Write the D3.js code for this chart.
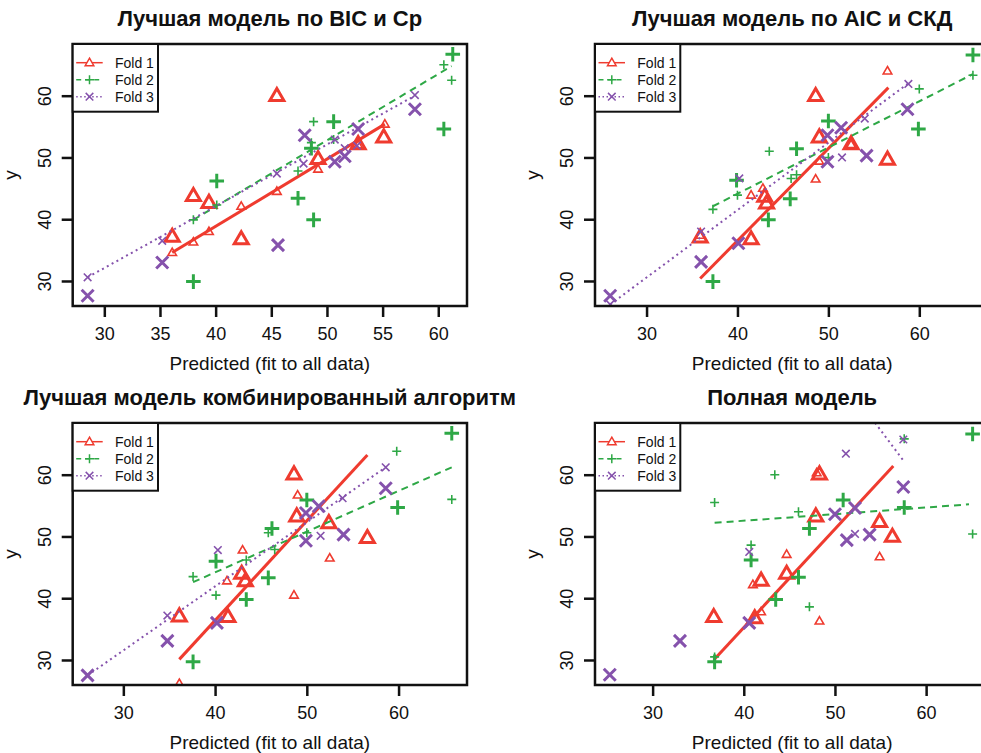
<!DOCTYPE html>
<html>
<head>
<meta charset="utf-8">
<script src="https://cdn.jsdelivr.net/npm/d3@7"></script>
<style>
  body { margin: 0; background: #fff; }
  svg { display: block; }
  text { font-family: "Liberation Sans", Arial, Helvetica, sans-serif; fill: #111; }
</style>
</head>
<body>
<div id="chart"></div>
<script>
// 1: DATA
const panelTitles = [
    "Лучшая модель по BIC и Ср",
    "Лучшая модель по AIC и СКД",
    "Лучшая модель комбинированный алгоритм",
    "Полная модель"
];
const foldNames = ["Fold 1", "Fold 2", "Fold 3"];
const xLimits = [[27.16, 62.58], [24.33, 67.7], [24.48, 67.46], [23.68, 66.93]];
const yLimits = [25.95, 68.37];
const xTickValues = [[30, 35, 40, 45, 50, 55, 60], [30, 40, 50, 60], [30, 40, 50, 60], [30, 40, 50, 60]];
const yTickValues = [30, 40, 50, 60];

// large symbols: y against prediction from the fit to all data, one list per fold
const bicObserved = [
    [[45.5, 60.0], [38.0, 43.8], [39.4, 42.7], [36.1, 37.2], [42.3, 36.8], [49.2, 49.8], [52.8, 52.2], [55.1, 53.3]],
    [[61.3, 66.7], [60.5, 54.6], [50.6, 55.8], [48.6, 51.5], [40.1, 46.2], [47.4, 43.4], [48.8, 39.9], [38.0, 29.9]],
    [[28.5, 27.6], [35.2, 33.0], [45.6, 35.8], [48.0, 53.6], [50.7, 49.3], [51.6, 50.2], [52.8, 54.6], [57.9, 57.8]]
];
// small symbols: fold predictions
const bicFoldPred = [
    [[36.1, 34.6], [38.0, 36.3], [39.4, 38.0], [42.3, 42.1], [45.5, 44.5], [49.2, 48.1], [52.8, 52.0], [55.2, 55.4]],
    [[60.5, 65.0], [61.2, 62.5], [48.8, 55.8], [50.6, 52.9], [48.6, 52.4], [47.4, 47.8], [40.1, 42.3], [38.0, 39.9]],
    [[28.5, 30.6], [35.2, 36.5], [45.5, 47.4], [47.9, 49.0], [50.7, 52.9], [51.6, 51.5], [52.7, 51.9], [57.9, 60.1]]
];
const bicFoldLine = [
    [[36.1, 34.6], [55.2, 55.4]],
    [[38.0, 39.9], [61.2, 64.8]],
    [[28.5, 30.6], [57.9, 60.0]]
];

const aicObserved = [
    [[48.6, 60.0], [49.0, 53.3], [52.5, 52.2], [56.5, 49.7], [43.0, 43.7], [43.2, 42.6], [35.9, 37.1], [41.5, 36.8]],
    [[65.9, 66.6], [50.0, 55.9], [46.5, 51.4], [59.9, 54.6], [39.9, 46.3], [45.8, 43.3], [43.4, 39.9], [37.3, 29.9]],
    [[26.0, 27.6], [36.0, 33.1], [40.1, 36.1], [49.9, 53.6], [51.4, 54.8], [49.9, 49.3], [54.2, 50.3], [58.7, 57.8]]
];
const aicFoldPred = [
    [[56.5, 64.0], [52.5, 52.1], [49.0, 49.4], [48.6, 46.5], [42.8, 45.0], [41.5, 43.9], [35.9, 37.4]],
    [[65.9, 63.3], [60.0, 61.1], [43.5, 51.0], [40.0, 43.9], [37.3, 41.6], [46.5, 47.2], [45.9, 46.6], [50.0, 50.0]],
    [[26.0, 26.2], [36.0, 38.0], [40.2, 46.6], [51.5, 50.0], [54.0, 56.3], [58.8, 61.9]]
];
const aicFoldLine = [
    [[35.9, 30.4], [56.6, 61.3]],
    [[37.3, 42.1], [65.9, 63.5]],
    [[26.0, 26.2], [58.8, 62.0]]
];

const combObserved = [
    [[48.6, 60.1], [48.9, 53.3], [52.4, 52.2], [56.6, 49.8], [42.9, 44.0], [43.3, 42.8], [36.1, 37.1], [41.4, 37.0]],
    [[65.8, 66.7], [50.0, 55.9], [46.2, 51.3], [59.9, 54.7], [40.1, 46.0], [45.8, 43.3], [43.4, 39.8], [37.6, 29.7]],
    [[26.1, 27.5], [34.8, 33.1], [40.2, 36.0], [49.9, 53.8], [51.3, 54.9], [49.9, 49.3], [54.0, 50.3], [58.6, 57.8]]
];
const combFoldPred = [
    [[49.0, 56.7], [43.0, 47.8], [41.3, 42.8], [52.5, 46.5], [48.6, 40.5], [36.1, 26.2]],
    [[59.8, 63.8], [65.8, 56.0], [45.8, 50.6], [50.0, 50.6], [46.5, 47.9], [43.4, 46.2], [37.6, 43.5], [40.1, 40.5]],
    [[34.8, 37.2], [40.3, 47.8], [53.9, 56.2], [58.6, 61.2], [51.5, 50.1], [26.1, 27.5]]
];
const combFoldLine = [
    [[36.1, 30.1], [56.6, 63.2]],
    [[37.6, 42.6], [65.8, 61.2]],
    [[26.1, 27.5], [58.6, 61.2]]
];

const fullObserved = [
    [[48.3, 60.1], [47.9, 53.3], [54.9, 52.4], [56.3, 50.0], [36.7, 37.0], [41.2, 36.8], [41.9, 42.9], [44.7, 44.0]],
    [[65.1, 66.6], [50.9, 55.9], [47.2, 51.3], [57.6, 54.7], [40.8, 46.2], [46.0, 43.4], [43.5, 39.8], [36.8, 29.7]],
    [[25.3, 27.6], [33.0, 33.1], [40.6, 36.0], [50.0, 53.6], [52.2, 54.6], [51.3, 49.4], [53.8, 50.3], [57.5, 58.0]]
];
const fullFoldPred = [
    [[48.0, 60.3], [44.7, 47.1], [54.9, 46.7], [41.0, 42.2], [41.9, 37.8], [48.3, 36.3]],
    [[57.6, 65.8], [43.4, 60.0], [36.8, 55.5], [46.0, 54.0], [65.1, 50.4], [40.8, 48.6], [47.2, 38.6], [36.8, 30.5]],
    [[57.5, 65.7], [51.2, 63.4], [40.6, 47.5], [52.2, 50.4], [40.6, 35.9]]
];
const fullFoldLine = [
    [[36.7, 30.0], [56.4, 61.4]],
    [[36.8, 52.2], [64.7, 55.2]],
    [[54.4, 68.4], [57.5, 62.3]]
];

// 2: LAYOUT AND STYLES
const W = 981, H = 753;
const figW = 522.3, figH = 379;
const box = { left: 72.7, top: 44, w: 394.3, h: 262 };

const foldColors = ["#ef3b2f", "#2ea846", "#8552ac"];
const foldDash = [null, "7,5", "2,3.5"];
const foldWidth = [3, 2, 2];

// custom stroke symbols (size = half width in px), like R pch 2, 3, 4
const triangleSym = { draw(ctx, r) {
    const h = r * Math.sqrt(3);
    ctx.moveTo(0, -h * 0.6);
    ctx.lineTo(r, h * 0.4);
    ctx.lineTo(-r, h * 0.4);
    ctx.closePath();
}};
const plusSym = { draw(ctx, r) {
    ctx.moveTo(-r, 0); ctx.lineTo(r, 0);
    ctx.moveTo(0, -r); ctx.lineTo(0, r);
}};
const timesSym = { draw(ctx, r) {
    ctx.moveTo(-r, -r); ctx.lineTo(r, r);
    ctx.moveTo(-r, r); ctx.lineTo(r, -r);
}};
const foldSymbols = [triangleSym, plusSym, timesSym];
const bigSize = [7, 7.3, 6];
const smallSize = [4.3, 4.5, 3.8];

const panels = [
    { observed: bicObserved, pred: bicFoldPred, lines: bicFoldLine },
    { observed: aicObserved, pred: aicFoldPred, lines: aicFoldLine },
    { observed: combObserved, pred: combFoldPred, lines: combFoldLine },
    { observed: fullObserved, pred: fullFoldPred, lines: fullFoldLine }
];

const svg = d3.select("#chart")
    .append("svg")
    .attr("width", W)
    .attr("height", H);

panels.forEach((p, i) => {
    const col = i % 2, row = Math.floor(i / 2);
    const g = svg.append("g")
        .attr("transform", `translate(${col * figW},${row * figH})`);

    const xScale = d3.scaleLinear().domain(xLimits[i]).range([box.left, box.left + box.w]);
    const yScale = d3.scaleLinear().domain(yLimits).range([box.top + box.h, box.top]);

    g.append("clipPath")
        .attr("id", "clip" + i)
        .append("rect")
        .attr("x", box.left).attr("y", box.top)
        .attr("width", box.w).attr("height", box.h);

    const plot = g.append("g").attr("clip-path", `url(#clip${i})`);

    const line = d3.line()
        .x(d => xScale(d[0]))
        .y(d => yScale(d[1]));

    for (let f = 0; f < 3; f++) {
        // big symbols
        plot.selectAll(".big" + f)
            .data(p.observed[f])
            .enter()
            .append("path")
            .attr("transform", d => `translate(${xScale(d[0])},${yScale(d[1])})`)
            .attr("d", d3.symbol().type(foldSymbols[f]).size(bigSize[f]))
            .attr("fill", "none")
            .attr("stroke", foldColors[f])
            .attr("stroke-width", 3);

        // small symbols
        plot.selectAll(".small" + f)
            .data(p.pred[f])
            .enter()
            .append("path")
            .attr("transform", d => `translate(${xScale(d[0])},${yScale(d[1])})`)
            .attr("d", d3.symbol().type(foldSymbols[f]).size(smallSize[f]))
            .attr("fill", "none")
            .attr("stroke", foldColors[f])
            .attr("stroke-width", 1.6);

        // fold line
        plot.append("path")
            .datum(p.lines[f])
            .attr("fill", "none")
            .attr("stroke", foldColors[f])
            .attr("stroke-width", foldWidth[f])
            .attr("stroke-dasharray", foldDash[f])
            .attr("d", line);
    }

    // box
    g.append("rect")
        .attr("x", box.left).attr("y", box.top)
        .attr("width", box.w).attr("height", box.h)
        .attr("fill", "none")
        .attr("stroke", "#111")
        .attr("stroke-width", 2.5);

    // x axis
    const xAxis = g.append("g")
        .attr("transform", `translate(0,${box.top + box.h})`)
        .call(d3.axisBottom(xScale).tickValues(xTickValues[i]).tickSize(11).tickPadding(10));
    xAxis.select(".domain").remove();
    xAxis.selectAll("line").attr("stroke", "#111").attr("stroke-width", 2.5);
    xAxis.selectAll("text")
        .style("font-size", "18px")
        .attr("fill", "#111");

    // y axis, labels turned like R's default
    const yAxis = g.append("g")
        .attr("transform", `translate(${box.left},0)`)
        .call(d3.axisLeft(yScale).tickValues(yTickValues).tickSize(11));
    yAxis.select(".domain").remove();
    yAxis.selectAll("line").attr("stroke", "#111").attr("stroke-width", 2.5);
    yAxis.selectAll("text")
        .attr("x", null)
        .attr("dy", null)
        .attr("text-anchor", "middle")
        .attr("transform", "translate(-22,0) rotate(-90)")
        .style("font-size", "18px")
        .attr("fill", "#111");

    // titles
    g.append("text")
        .attr("x", box.left + box.w / 2)
        .attr("y", 26)
        .attr("text-anchor", "middle")
        .style("font-size", "22px")
        .style("font-weight", "bold")
        .text(panelTitles[i]);

    g.append("text")
        .attr("x", box.left + box.w / 2)
        .attr("y", box.top + box.h + 64)
        .attr("text-anchor", "middle")
        .style("font-size", "19px")
        .text("Predicted (fit to all data)");

    g.append("text")
        .attr("transform", `translate(${box.left - 56},${box.top + box.h / 2}) rotate(-90)`)
        .attr("text-anchor", "middle")
        .style("font-size", "19px")
        .text("y");

    // legend
    const leg = g.append("g").attr("transform", `translate(${box.left},${box.top})`);
    leg.append("rect")
        .attr("width", 85.3).attr("height", 67.7)
        .attr("fill", "#fff")
        .attr("stroke", "#111")
        .attr("stroke-width", 2);
    foldNames.forEach((name, f) => {
        const ly = 18.7 + f * 17;
        leg.append("line")
            .attr("x1", 3.5).attr("x2", 30)
            .attr("y1", ly).attr("y2", ly)
            .attr("stroke", foldColors[f])
            .attr("stroke-width", 1.5)
            .attr("stroke-dasharray", f === 0 ? null : (f === 1 ? "5,4" : "1.5,2.5"));
        leg.append("path")
            .attr("transform", `translate(16.8,${ly})`)
            .attr("d", d3.symbol().type(foldSymbols[f]).size(smallSize[f]))
            .attr("fill", "#fff")
            .attr("stroke", foldColors[f])
            .attr("stroke-width", 1.5);
        leg.append("text")
            .attr("x", 42.3)
            .attr("y", ly + 5)
            .style("font-size", "14px")
            .text(name);
    });
});
</script>
</body>
</html>
